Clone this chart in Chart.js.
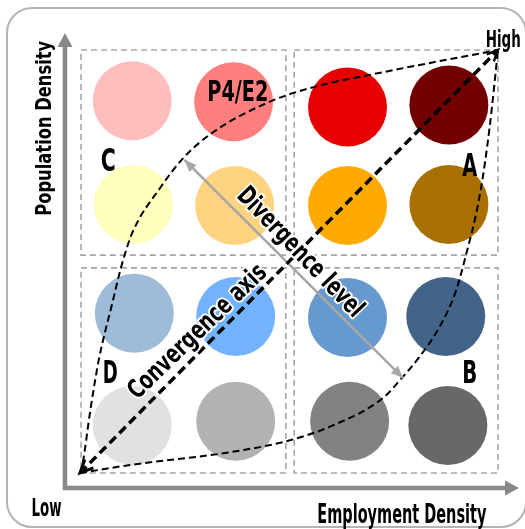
<!DOCTYPE html>
<html>
<head>
<meta charset="utf-8">
<script src="https://cdn.jsdelivr.net/npm/chart.js@4"></script>
<style>
html,body{margin:0;padding:0;background:#fff;overflow:hidden;}
#wrap{width:525px;height:529px;position:relative;}
</style>
</head>
<body>
<div id="wrap"><canvas id="c"></canvas></div>
<script>
// ---- data (diagram units: 0..4 on each axis, Low -> High) ----
const popLevels = ['P4','P4','P4','P4','P3','P3','P3','P3','P2','P2','P2','P2','P1','P1','P1','P1'];
const empLevels = ['E1','E2','E3','E4','E1','E2','E3','E4','E1','E2','E3','E4','E1','E2','E3','E4'];
const circleX = [0.50,1.47,2.56,3.53, 0.51,1.48,2.56,3.53, 0.52,1.49,2.56,3.50, 0.50,1.49,2.58,3.52];
const circleY = [3.52,3.51,3.46,3.48, 2.54,2.53,2.53,2.54, 1.51,1.48,1.47,1.48, 0.45,0.49,0.49,0.45];
const circleColors = ['#FFBEBE','#FF7F7F','#E60000','#730000',
                      '#FFFFBE','#FFD37F','#FFAA00','#A87000',
                      '#9EBBD7','#73B2FF','#6699CD','#426489',
                      '#E1E1E1','#B2B2B2','#828282','#686868'];
const upperCurveX = [0,0.02,0.10,0.18,0.31,0.40,0.50,0.77,0.99,1.27,1.79,2.20,2.90,4.00];
const upperCurveY = [0,0.06,0.60,1.07,1.61,1.97,2.27,2.70,2.98,3.22,3.50,3.64,3.79,4.00];
const lowerCurveX = [0,0.51,1.46,2.01,2.42,2.90,3.09,3.25,3.44,3.59,3.68,3.83,3.92,4.00];
const lowerCurveY = [0,0.08,0.20,0.31,0.45,0.71,0.91,1.10,1.38,1.70,2.01,2.65,3.27,4.00];
const convergenceX = [0,4];
const convergenceY = [0,4];
const divergenceX = [1.00,3.09];
const divergenceY = [2.96,0.90];
const quadrantX0 = [0.01,2.05,0.01,2.05];
const quadrantX1 = [1.97,4.00,1.97,4.00];
const quadrantY0 = [2.06,2.06,0.00,0.00];
const quadrantY1 = [4.00,4.00,1.94,1.94];
const quadrantNames = ['C','A','D','B'];
const quadrantNameX = [0.27,3.73,0.29,3.73];
const quadrantNameY = [2.96,2.92,0.96,0.96];

const pts = (xs, ys) => xs.map((x,i)=>({x:x, y:ys[i]}));

const FONT = '"DejaVu Sans Condensed","DejaVu Sans",sans-serif';
function drawLabel(ctx, chart, L){
  const x = chart.scales.x.getPixelForValue(L.x);
  const y = chart.scales.y.getPixelForValue(L.y);
  const fpx = L.cap/0.73;
  ctx.save();
  ctx.font = 'bold ' + fpx + 'px ' + FONT;
  const w = ctx.measureText(L.text).width;
  ctx.translate(x, y);
  ctx.rotate((L.rot||0)*Math.PI/180);
  ctx.scale(L.w/w, 1);
  ctx.textAlign = 'center';
  ctx.textBaseline = 'alphabetic';
  if (L.halo){
    ctx.strokeStyle = '#fff'; ctx.lineWidth = 4; ctx.lineJoin = 'round';
    ctx.strokeText(L.text, 0, L.cap/2);
  }
  ctx.fillStyle = '#000';
  ctx.fillText(L.text, 0, L.cap/2);
  ctx.restore();
}
function arrowHead(ctx, tip, from, len, half, fill, color, lw){
  const a = Math.atan2(tip.y-from.y, tip.x-from.x);
  const bx = tip.x - len*Math.cos(a), by = tip.y - len*Math.sin(a);
  const px = -Math.sin(a)*half, py = Math.cos(a)*half;
  ctx.save();
  ctx.setLineDash([]);
  ctx.beginPath();
  ctx.moveTo(bx+px, by+py); ctx.lineTo(tip.x, tip.y); ctx.lineTo(bx-px, by-py);
  if (fill){ ctx.closePath(); ctx.fillStyle = color; ctx.fill(); }
  else { ctx.strokeStyle = color; ctx.lineWidth = lw; ctx.lineJoin='miter'; ctx.stroke(); }
  ctx.restore();
}

const diagram = {
  id: 'diagram',
  beforeDraw(chart){
    const ctx = chart.ctx, xs = chart.scales.x, ys = chart.scales.y;
    ctx.save();
    ctx.fillStyle = '#fff';
    ctx.fillRect(0,0,chart.width,chart.height);
    // outer frame
    ctx.strokeStyle = '#b4b4b4'; ctx.lineWidth = 2;
    ctx.beginPath();
    ctx.roundRect(7, 8, 519, 519, 25);
    ctx.stroke();
    // quadrant boxes
    ctx.strokeStyle = '#a6a6a6'; ctx.lineWidth = 1.6; ctx.setLineDash([6,4]);
    for (let i=0;i<quadrantX0.length;i++){
      const x0 = xs.getPixelForValue(quadrantX0[i]), x1 = xs.getPixelForValue(quadrantX1[i]);
      const y0 = ys.getPixelForValue(quadrantY0[i]), y1 = ys.getPixelForValue(quadrantY1[i]);
      ctx.strokeRect(x0, y1, x1-x0, y0-y1);
    }
    ctx.setLineDash([]);
    // axes
    const ca = chart.chartArea;
    const ax = ca.left - 15, ay = ca.bottom + 15;
    ctx.strokeStyle = '#888'; ctx.lineWidth = 4.5;
    ctx.beginPath();
    ctx.moveTo(ax, ca.top - 5); ctx.lineTo(ax, ay); ctx.lineTo(ca.right + 8, ay);
    ctx.stroke();
    arrowHead(ctx, {x:ax, y:ca.top-17}, {x:ax, y:ay}, 14, 7.5, true, '#888');
    arrowHead(ctx, {x:ca.right+21, y:ay}, {x:ax, y:ay}, 14, 7.5, true, '#888');
    ctx.restore();
  },
  afterDatasetsDraw(chart){
    const ctx = chart.ctx, xs = chart.scales.x, ys = chart.scales.y;
    const P = (x,y)=>({x:xs.getPixelForValue(x), y:ys.getPixelForValue(y)});
    // convergence axis arrowheads
    const lo = P(convergenceX[0],convergenceY[0]), hi = P(convergenceX[1],convergenceY[1]);
    arrowHead(ctx, lo, hi, 13, 6, false, '#000', 3);
    arrowHead(ctx, hi, lo, 11, 5, false, '#000', 2.5);
    // divergence arrowheads
    const d0 = P(divergenceX[0],divergenceY[0]), d1 = P(divergenceX[1],divergenceY[1]);
    arrowHead(ctx, d0, d1, 12, 5, true, '#a6a6a6');
    arrowHead(ctx, d1, d0, 12, 5, true, '#a6a6a6');
    // labels
    const labels = chart.options.plugins.diagram.labels;
    labels.forEach(L=>drawLabel(ctx, chart, L));
    quadrantNames.forEach((t,i)=>drawLabel(ctx, chart, {text:t, x:quadrantNameX[i], y:quadrantNameY[i], cap:23, w:15}));
  }
};

new Chart(document.getElementById('c'), {
  type: 'scatter',
  data: {
    datasets: [
      { label:'cells', data: pts(circleX, circleY), pointRadius: 39.5, pointBackgroundColor: circleColors,
        pointBorderWidth: 0, pointBorderColor: 'rgba(0,0,0,0)', order: 10 },
      { label:'upper', data: pts(upperCurveX, upperCurveY), showLine:true, pointRadius:0, borderColor:'#000',
        borderWidth:2, borderDash:[7,4], cubicInterpolationMode:'monotone', order: 3 },
      { label:'lower', data: pts(lowerCurveX, lowerCurveY), showLine:true, pointRadius:0, borderColor:'#000',
        borderWidth:2, borderDash:[7,4], cubicInterpolationMode:'monotone', order: 3 },
      { label:'divergence', data: pts(divergenceX, divergenceY), showLine:true, pointRadius:0, borderColor:'#a6a6a6',
        borderWidth:2.5, order: 2 },
      { label:'convergence', data: pts(convergenceX, convergenceY), showLine:true, pointRadius:0, borderColor:'#000',
        borderWidth:3.5, borderDash:[9,5], order: 1 }
    ]
  },
  options: {
    responsive: true, maintainAspectRatio: false, animation: false, events: [],
    layout: { autoPadding: false, padding: { left: 80, right: 27, top: 50, bottom: 56 } },
    scales: {
      x: { type:'linear', min:0, max:4, display:false },
      y: { type:'linear', min:0, max:4, display:false }
    },
    clip: false,
    plugins: {
      legend: { display:false }, tooltip: { enabled:false },
      diagram: {
        labels: [
          { text:'High', x:4.05, y:4.11, cap:17, w:35 },
          { text:'Low', x:-0.32, y:-0.32, cap:18, w:30 },
          { text:'Employment Density', x:3.08, y:-0.38, cap:19, w:169 },
          { text:'Population Density', x:-0.35, y:3.26, cap:16, w:175, rot:-90 },
          { text:'P4/E2', x:1.51, y:3.62, cap:21, w:61 },
          { text:'Divergence level', x:2.12, y:2.10, cap:19, w:170, rot:46, halo:true },
          { text:'Convergence axis', x:1.11, y:1.35, cap:19, w:182, rot:-44, halo:true }
        ]
      }
    }
  },
  plugins: [diagram]
});
</script>
</body>
</html>
